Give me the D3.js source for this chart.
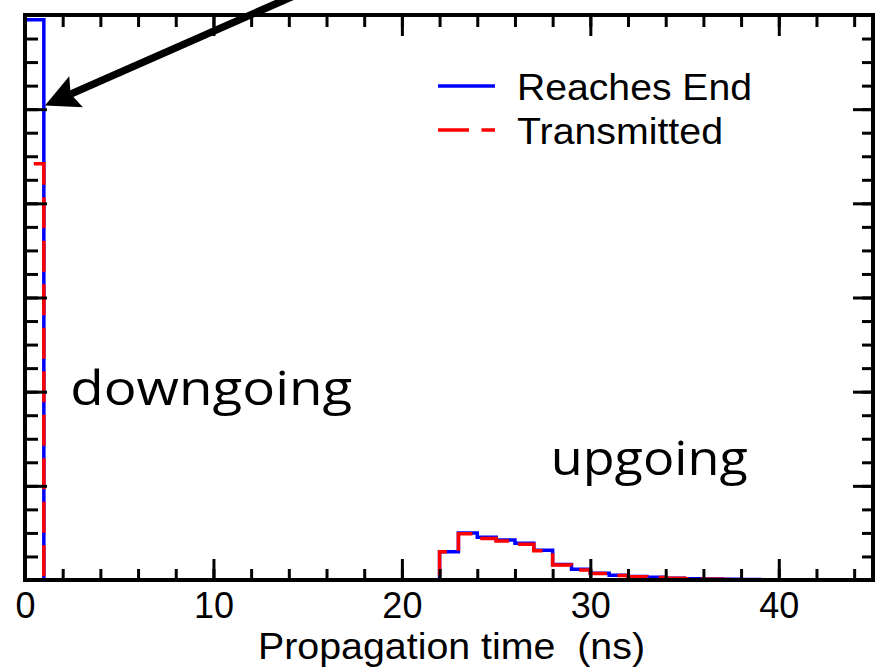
<!DOCTYPE html>
<html>
<head>
<meta charset="utf-8">
<script src="https://cdn.jsdelivr.net/npm/d3@7"></script>
<style>
  html, body { margin: 0; padding: 0; background: #fff; }
  svg { display: block; }
</style>
</head>
<body>
<svg id="chart" width="876" height="671"></svg>
<script>
// Photon propagation-time histograms, 1 ns bins starting at 0 ns
const binStart = 0;
const binWidth = 1;
const reachesEnd = [
  5.95, 0, 0, 0, 0, 0, 0, 0, 0, 0,
  0, 0, 0, 0, 0, 0, 0, 0, 0, 0,
  0, 0, 0.30, 0.50, 0.455, 0.425, 0.39, 0.315, 0.165, 0.113,
  0.072, 0.05, 0.037, 0.029, 0.019, 0.014, 0.010, 0.007, 0.004, 0.002,
  0, 0, 0, 0, 0
];
const transmitted = [
  4.42, 0, 0, 0, 0, 0, 0, 0, 0, 0,
  0, 0, 0, 0, 0, 0, 0, 0, 0, 0,
  0, 0, 0.30, 0.49, 0.44, 0.415, 0.38, 0.31, 0.16, 0.106,
  0.070, 0.048, 0.035, 0.027, 0.018, 0.013, 0.009, 0.006, 0.003, 0.002,
  0, 0, 0, 0, 0
];
const seriesNames = ["Reaches End", "Transmitted"];
const xMajorTicks = [0, 10, 20, 30, 40];
const xMinorTicks = d3.range(2, 45, 2);
const yMajorTicks = [0, 1, 2, 3, 4, 5, 6];
const yMinorTicks = d3.range(0.25, 6, 0.25);
const xLabel = "Propagation time  (ns)";
const regionLabels = ["downgoing", "upgoing"];

const svg = d3.select("#chart");
const plotLeft = 25, plotRight = 873, plotTop = 15, plotBottom = 580;

const x = d3.scaleLinear().domain([0, 45]).range([plotLeft, plotRight]);
const y = d3.scaleLinear().domain([0, 6]).range([plotBottom, plotTop]);

svg.append("defs").append("clipPath").attr("id", "plotArea")
  .append("rect").attr("x", plotLeft).attr("y", plotTop)
  .attr("width", plotRight - plotLeft).attr("height", plotBottom - plotTop);

function stepPoints(values) {
  const pts = [[binStart, 0]];
  values.forEach((v, i) => pts.push([binStart + i * binWidth, v]));
  pts.push([binStart + values.length * binWidth, values[values.length - 1]]);
  return pts;
}

const line = d3.line()
  .x(d => x(d[0]))
  .y(d => y(d[1]))
  .curve(d3.curveStepAfter);

const plot = svg.append("g").attr("clip-path", "url(#plotArea)");

plot.append("path")
  .attr("d", line(stepPoints(reachesEnd)))
  .attr("fill", "none")
  .attr("stroke", "#0000ff")
  .attr("stroke-width", 3.5);

plot.append("path")
  .attr("d", line(stepPoints(transmitted)))
  .attr("fill", "none")
  .attr("stroke", "#ff0000")
  .attr("stroke-width", 3.5)
  .attr("stroke-dasharray", "31,12.5")
  .attr("stroke-dashoffset", 10);

// axes: inward ticks on all four sides
const tickStyle = g => {
  g.select(".domain").remove();
  g.selectAll(".tick line").attr("stroke", "#000").attr("stroke-width", 3);
};

svg.append("g").attr("transform", `translate(0,${plotBottom})`)
  .call(d3.axisBottom(x).tickValues(xMinorTicks).tickSize(-11).tickFormat(""))
  .call(tickStyle);
svg.append("g").attr("transform", `translate(0,${plotBottom})`)
  .call(d3.axisBottom(x).tickValues(xMajorTicks).tickSize(-21).tickPadding(12))
  .call(tickStyle)
  .call(g => g.selectAll(".tick text")
    .attr("fill", "#000")
    .style("font-family", "'Liberation Sans', Arial, sans-serif")
    .style("font-size", "36px"));

svg.append("g").attr("transform", `translate(0,${plotTop})`)
  .call(d3.axisTop(x).tickValues(xMinorTicks).tickSize(-12).tickFormat(""))
  .call(tickStyle);
svg.append("g").attr("transform", `translate(0,${plotTop})`)
  .call(d3.axisTop(x).tickValues(xMajorTicks).tickSize(-21).tickFormat(""))
  .call(tickStyle);

svg.append("g").attr("transform", `translate(${plotLeft},0)`)
  .call(d3.axisLeft(y).tickValues(yMinorTicks).tickSize(-13).tickFormat(""))
  .call(tickStyle);
svg.append("g").attr("transform", `translate(${plotLeft},0)`)
  .call(d3.axisLeft(y).tickValues(yMajorTicks).tickSize(-22).tickFormat(""))
  .call(tickStyle);

svg.append("g").attr("transform", `translate(${plotRight},0)`)
  .call(d3.axisRight(y).tickValues(yMinorTicks).tickSize(-11).tickFormat(""))
  .call(tickStyle);
svg.append("g").attr("transform", `translate(${plotRight},0)`)
  .call(d3.axisRight(y).tickValues(yMajorTicks).tickSize(-20).tickFormat(""))
  .call(tickStyle);

// frame
svg.append("rect")
  .attr("x", plotLeft).attr("y", plotTop)
  .attr("width", plotRight - plotLeft).attr("height", plotBottom - plotTop)
  .attr("fill", "none").attr("stroke", "#000").attr("stroke-width", 4);

// x-axis title
svg.append("text")
  .attr("x", 258).attr("y", 659)
  .attr("textLength", 387).attr("lengthAdjust", "spacingAndGlyphs")
  .attr("xml:space", "preserve")
  .style("white-space", "pre")
  .style("font-family", "'Liberation Sans', Arial, sans-serif")
  .style("font-size", "36px")
  .attr("fill", "#000")
  .text(xLabel);

// legend
const legend = svg.append("g");
const legendRows = [
  { color: "#0000ff", dash: null, y: 86, len: 235 },
  { color: "#ff0000", dash: "31,12.5", y: 130, len: 206 }
];
legendRows.forEach((r, i) => {
  legend.append("line")
    .attr("x1", 438).attr("x2", 495).attr("y1", r.y).attr("y2", r.y)
    .attr("stroke", r.color).attr("stroke-width", 3.5)
    .attr("stroke-dasharray", r.dash);
  legend.append("text")
    .attr("x", 517).attr("y", r.y + 14)
    .attr("textLength", r.len).attr("lengthAdjust", "spacingAndGlyphs")
    .style("font-family", "'Liberation Sans', Arial, sans-serif")
    .style("font-size", "36px")
    .attr("fill", "#000")
    .text(seriesNames[i]);
});

// region labels, anchored in data coordinates
const regionLayout = [
  { at: [2.4, 1.86], len: 282 },
  { at: [27.9, 1.12], len: 197 }
];
svg.selectAll("text.region").data(regionLabels).join("text")
  .attr("class", "region")
  .attr("x", (d, i) => x(regionLayout[i].at[0]))
  .attr("y", (d, i) => y(regionLayout[i].at[1]))
  .attr("textLength", (d, i) => regionLayout[i].len)
  .attr("lengthAdjust", "spacingAndGlyphs")
  .style("font-family", "'Open Sans', 'Noto Sans', sans-serif")
  .style("font-size", "47px")
  .attr("fill", "#000")
  .text(d => d);

// arrow pointing at the downgoing peak, in data coordinates
const arrowFrom = { x: 16.5, y: 6.4 };
const arrowTo = { x: 1.06, y: 5.04 };
const ax0 = x(arrowFrom.x), ay0 = y(arrowFrom.y);
const ax1 = x(arrowTo.x), ay1 = y(arrowTo.y);
const ang = Math.atan2(ay1 - ay0, ax1 - ax0);
const headLen = 34, headHalf = 17, notch = 6;
const ux = Math.cos(ang), uy = Math.sin(ang);
const nx = -uy, ny = ux;
const bx = ax1 - ux * headLen, by = ay1 - uy * headLen;
svg.append("line")
  .attr("x1", ax0).attr("y1", ay0)
  .attr("x2", bx + ux * notch).attr("y2", by + uy * notch)
  .attr("stroke", "#000").attr("stroke-width", 7.5);
svg.append("path")
  .attr("d", `M${ax1},${ay1} L${bx + nx * headHalf},${by + ny * headHalf} L${bx + ux * notch},${by + uy * notch} L${bx - nx * headHalf},${by - ny * headHalf} Z`)
  .attr("fill", "#000");
</script>
</body>
</html>
